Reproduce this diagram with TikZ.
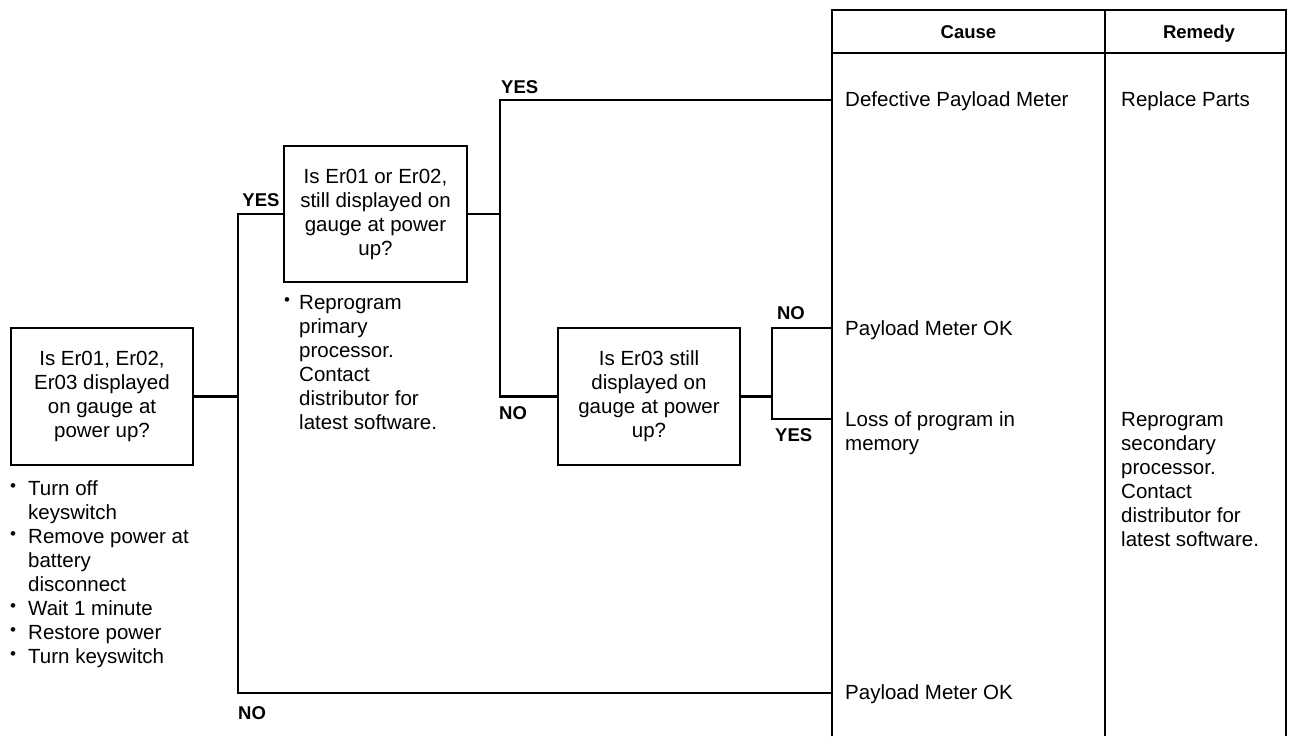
\documentclass[tikz,border=0pt]{standalone}
\usepackage{fontspec}
\setmainfont{Liberation Sans}
\usetikzlibrary{positioning}
\newcommand{\bodysize}{\fontsize{20.5}{24}\selectfont}
\newcommand{\tagsize}{\fontsize{18.5}{22}\selectfont\bfseries}
\newcommand{\blt}{\raisebox{4.5pt}{\fontsize{17}{17}\selectfont\textbullet}}
\tikzset{
  quest/.style={
    draw, line width=2.1pt, inner sep=0pt,
    minimum width=182pt, minimum height=137pt,
    align=center, font=\bodysize
  },
  tag/.style={font=\tagsize, inner sep=0pt},
  cell/.style={font=\bodysize, inner sep=0pt, anchor=base west},
  steps/.style={font=\bodysize, inner sep=0pt, anchor=north west},
  wire/.style={line width=2.1pt},
  frame/.style={line width=2.1pt}
}

\begin{document}
\begin{tikzpicture}[x=1pt, y=-1pt]
\useasboundingbox (0,0) rectangle (1290,736);

% ---------- Cause / Remedy table ----------
\draw[frame] (832,736) |- (1286,10) -- (1286,736);
\draw[frame] (832,53) -- (1286,53);
\draw[frame] (1105,10) -- (1105,736);
\node[tag, anchor=base] (hcause)  at (968.5,38.5) {Cause};
\node[tag, anchor=base] (hremedy) at (1199,38.5) {Remedy};

\node[cell] (defect) at (845,106.5) {Defective Payload Meter};
\node[cell] (replace) at (1121,106.5) {Replace Parts};
\node[cell] (ok1) at (845,335) {Payload Meter OK};
\node[steps] (loss) at (845,409.7)
  {\begin{tabular}{@{}l@{}}Loss of program in\\memory\end{tabular}};
\node[steps] (reprog2) at (1121,409.7)
  {\begin{tabular}{@{}l@{}}Reprogram\\secondary\\processor.\\Contact\\distributor for\\latest software.\end{tabular}};
\node[cell] (ok2) at (845,699.5) {Payload Meter OK};

% ---------- Decision boxes ----------
\node[quest] (chk1) at (102,396.5)
  {Is Er01, Er02,\\Er03 displayed\\on gauge at\\power up?};
\node[quest, minimum width=183pt, minimum height=136pt] (chk2) at (375.5,214)
  {Is Er01 or Er02,\\still displayed on\\gauge at power\\up?};
\node[quest] (chk3) at (649,396.5)
  {Is Er03 still\\displayed on\\gauge at power\\up?};

% ---------- Steps under the boxes ----------
\node[steps] (todo1) at (10,478.7)
  {\begin{tabular}{@{}l@{}l@{}}
  \makebox[18pt][l]{\blt} & Turn off\\
   & keyswitch\\
  \blt & Remove power at\\
   & battery\\
   & disconnect\\
  \blt & Wait 1 minute\\
  \blt & Restore power\\
  \blt & Turn keyswitch
  \end{tabular}};
\node[steps] (todo2) at (284,292.7)
  {\begin{tabular}{@{}l@{}l@{}}
  \makebox[15pt][l]{\blt} & Reprogram\\
   & primary\\
   & processor.\\
   & Contact\\
   & distributor for\\
   & latest software.
  \end{tabular}};

% ---------- Branch points ----------
\coordinate (j1yes) at (238,214);
\coordinate (j1no)  at (238,693);
\coordinate (j2yes) at (500,100);
\coordinate (j2no)  at (500,396.5);
\coordinate (j3no)  at (772,328);
\coordinate (j3yes) at (772,419);
\coordinate (t1) at (832,100);
\coordinate (t2) at (832,328);
\coordinate (t3) at (832,419);
\coordinate (t4) at (832,693);

\draw[wire] (chk1.east) -- (chk1.east -| j1yes);
\draw[wire] (chk2.west) -- (j1yes) -- (j1no) -- (t4);
\draw[wire] (chk2.east) -- (chk2.east -| j2yes);
\draw[wire] (t1) -- (j2yes) -- (j2no) -- (chk3.west);
\draw[wire] (chk3.east) -- (chk3.east -| j3no);
\draw[wire] (t2) -- (j3no) -- (j3yes) -- (t3);

% ---------- YES / NO tags ----------
\node[tag] (yes1) at (261,200) {YES};
\node[tag, anchor=west] (no1) at (238,713) {NO};
\node[tag, anchor=west] (yes2) at (501,87) {YES};
\node[tag, anchor=west] (no2) at (499,413) {NO};
\node[tag] (no3) at (791,313) {NO};
\node[tag, anchor=west] (yes3) at (775,435) {YES};

\end{tikzpicture}
\end{document}
